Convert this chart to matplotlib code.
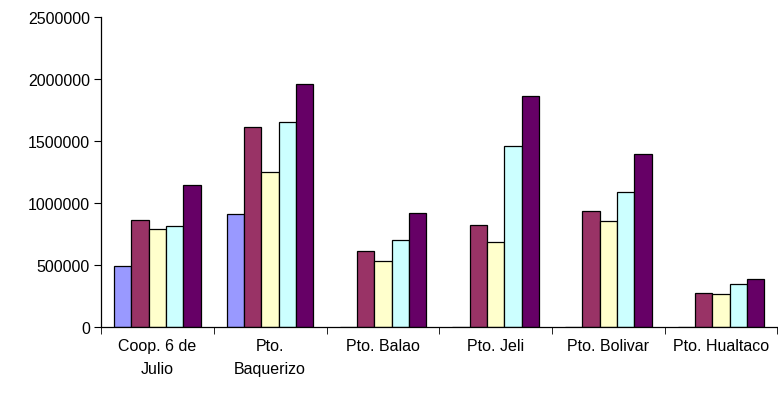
import numpy as np
import matplotlib.pyplot as plt

plt.rcParams['font.family'] = ['Liberation Sans', 'DejaVu Sans']

# categorias y valores de cada serie
categorias = ['Coop. 6 de\nJulio', 'Pto.\nBaquerizo', 'Pto. Balao',
              'Pto. Jeli', 'Pto. Bolivar', 'Pto. Hualtaco']
serie1 = [490000, 908000, 0, 0, 0, 0]
serie2 = [865000, 1613000, 611000, 824000, 937000, 275000]
serie3 = [785000, 1247000, 531000, 684000, 851000, 262000]
serie4 = [810000, 1653000, 698000, 1457000, 1090000, 345000]
serie5 = [1147000, 1962000, 921000, 1866000, 1397000, 388000]

series = [serie1, serie2, serie3, serie4, serie5]
colores = ['#9999FF', '#993366', '#FFFFCC', '#CCFFFF', '#660066']

fig = plt.figure(figsize=(7.78, 4.02), dpi=100)
ax = fig.add_axes([0.13, 0.185, 0.869, 0.77])

x = np.arange(len(categorias))
n = len(series)
w = 1 / (n + 1.5)  # gap width 150% como en Excel
for i, (vals, c) in enumerate(zip(series, colores)):
    offs = (i - (n - 1) / 2) * w
    ax.bar(x + offs, vals, width=w, color=c, edgecolor='black', linewidth=0.9)

ax.set_xlim(-0.5, len(categorias) - 0.5)
ax.set_ylim(0, 2500000)
ax.set_yticks(np.arange(0, 2500001, 500000))
ax.set_yticklabels([str(v) for v in range(0, 2500001, 500000)], fontsize=11.5)

ax.set_xticks(x)
ax.set_xticklabels(categorias, fontsize=11.5, linespacing=1.65)
ax.set_xticks(np.arange(-0.5, len(categorias)), minor=True)
ax.tick_params(axis='x', which='major', length=0, pad=8)
ax.tick_params(axis='x', which='minor', length=5, direction='out')
ax.tick_params(axis='y', length=5, direction='out', pad=3)

for s in ['top', 'right']:
    ax.spines[s].set_visible(False)
for s in ['left', 'bottom']:
    ax.spines[s].set_linewidth(0.9)

plt.savefig('out.png', dpi=100)
